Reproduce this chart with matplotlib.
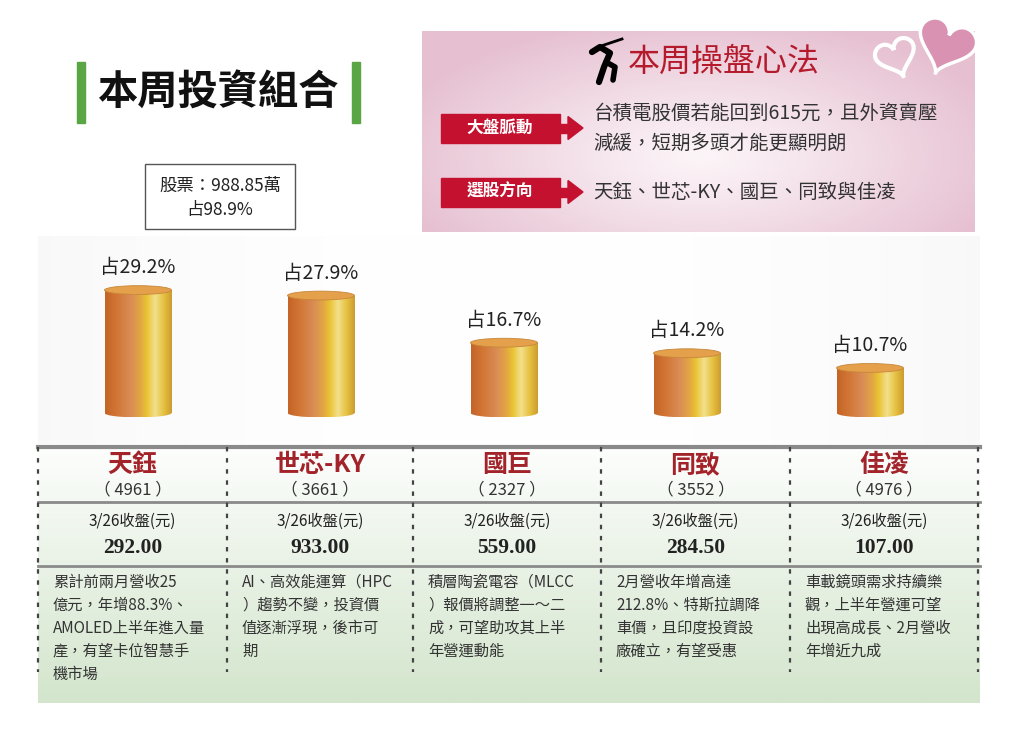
import numpy as np
import matplotlib.pyplot as plt
from matplotlib.patches import Rectangle, Ellipse, Polygon
from matplotlib.colors import LinearSegmentedColormap, to_rgb

plt.rcParams['font.family'] = ['Noto Sans CJK TC', 'DejaVu Sans']

W, H = 1024, 743

# ---- data ----
stocks = ['天鈺', '世芯-KY', '國巨', '同致', '佳凌']
codes = ['4961', '3661', '2327', '3552', '4976']
shares = [29.2, 27.9, 16.7, 14.2, 10.7]
prices = [292.00, 933.00, 559.00, 284.50, 107.00]
close_date = '3/26'
notes = [
    ['累計前兩月營收25', '億元，年增88.3%、', 'AMOLED上半年進入量', '產，有望卡位智慧手', '機市場'],
    ['AI、高效能運算（HPC', '）趨勢不變，投資價', '值逐漸浮現，後市可', '期'],
    ['積層陶瓷電容（MLCC', '）報價將調整一～二', '成，可望助攻其上半', '年營運動能'],
    ['2月營收年增高達', '212.8%、特斯拉調降', '車價，且印度投資設', '廠確立，有望受惠'],
    ['車載鏡頭需求持續樂', '觀，上半年營運可望', '出現高成長、2月營收', '年增近九成'],
]
stock_amount = '988.85萬'
stock_share = 98.9
market_view = ['台積電股價若能回到615元，且外資賣壓', '減緩，短期多頭才能更顯明朗']


def grad_img(c_start, c_end, n=200):
    a = np.linspace(0, 1, n)[:, None]
    c0, c1 = np.array(to_rgb(c_start)), np.array(to_rgb(c_end))
    return c0 + (c1 - c0) * a[:, :, None]


def heart(cx, cy, size, ang):
    t = np.linspace(0, 2 * np.pi, 200)
    x = 16 * np.sin(t) ** 3
    y = 13 * np.cos(t) - 5 * np.cos(2 * t) - 2 * np.cos(3 * t) - np.cos(4 * t)
    a = np.radians(ang)
    xr = x * np.cos(a) - y * np.sin(a)
    yr = x * np.sin(a) + y * np.cos(a)
    s = size / 32.0
    return np.column_stack([cx + xr * s, cy - yr * s])


fig = plt.figure(figsize=(W / 100, H / 100), dpi=100)
bg = fig.add_axes([0, 0, 1, 1])
bg.set_xlim(0, W)
bg.set_ylim(H, 0)
bg.set_autoscale_on(False)
bg.axis('off')

# pink panel with soft radial gradient
yy, xx = np.mgrid[0:100, 0:200]
r = np.sqrt(((xx - 100) / 115.0) ** 2 + ((yy - 62) / 70.0) ** 2).clip(0, 1)
c_in, c_out = np.array(to_rgb('#fcf5f8')), np.array(to_rgb('#e6c0d1'))
pink = c_in + (c_out - c_in) * (r[:, :, None] ** 1.1)
bg.imshow(pink, extent=(422, 975, 232, 31), aspect='auto', zorder=0)

# chart background
xs = np.linspace(-1, 1, 200)
cbg = np.array(to_rgb('#ffffff')) - (np.abs(xs)[None, :, None] ** 2) * 0.025
cbg = np.repeat(cbg, 10, axis=0)
bg.imshow(cbg, extent=(38, 980, 444, 236), aspect='auto', zorder=0)

# table background
tbl = grad_img('#fdfefd', '#d3e5cc')
tbl = np.repeat(tbl, 10, axis=1)
bg.imshow(tbl, extent=(38, 980, 703, 445), aspect='auto', zorder=0)

# title
bg.add_patch(Rectangle((77, 62), 8, 61, color='#5aa544', zorder=2))
bg.add_patch(Rectangle((352, 62), 8, 61, color='#5aa544', zorder=2))
bg.text(218, 93, '本周投資組合', fontsize=29, fontweight='heavy', ha='center', va='center', color='#111')

bg.add_patch(Rectangle((145, 164), 150, 65, fc='white', ec='#555', lw=1, zorder=2))
bg.text(220, 186, f'股票：{stock_amount}', fontsize=12.5, ha='center', va='center', color='#222', zorder=3)
bg.text(220, 210, f'占{stock_share}%', fontsize=12.5, ha='center', va='center', color='#222', zorder=3)

# right panel header
bg.text(628, 62, '本周操盤心法', fontsize=23, ha='left', va='center', color='#b51a2c', zorder=3)
bg.plot([592, 600, 610, 604, 599], [52, 47, 53, 67, 82], color='black', lw=4.5, solid_capstyle='round', zorder=3)
bg.plot([606, 615, 613], [62, 67, 80], color='black', lw=4, solid_capstyle='round', zorder=3)
bg.plot([598, 622], [47, 39], color='black', lw=2, zorder=3)

bg.add_patch(Polygon(heart(896, 56, 40, 20), closed=True, fc='none', ec='white', lw=3, zorder=3))
bg.add_patch(Polygon(heart(946, 44, 58, -20), closed=True, fc='#d992b2', ec='white', lw=2.5, zorder=3))

tags = ['大盤脈動', '選股方向']
tag_y = [128, 192]
for tag, ty in zip(tags, tag_y):
    bg.add_patch(Rectangle((441, ty - 14.5), 119, 29, color='#c4112f', zorder=2))
    bg.add_patch(Rectangle((558, ty - 4.5), 12, 9, color='#c4112f', zorder=2))
    bg.add_patch(Polygon([(568, ty - 11.5), (583, ty), (568, ty + 11.5)], color='#c4112f', zorder=2))
    bg.text(500, ty, tag, fontsize=12, fontweight='bold', color='white', ha='center', va='center', zorder=3)

bg.text(593, 113, market_view[0], fontsize=14, color='#333', ha='left', va='center', zorder=3)
bg.text(593, 143, market_view[1], fontsize=14, color='#333', ha='left', va='center', zorder=3)
pick = '、'.join(stocks[:-1]) + '與' + stocks[-1]
bg.text(593, 192, pick, fontsize=14, color='#333', ha='left', va='center', zorder=3)

# table grid
for y, lw in [(447, 3), (502, 2), (566, 2)]:
    bg.plot([38, 980], [y, y], color='#8a8a8a', lw=lw, zorder=2)
col_edges = [38, 227, 413, 601, 790, 978]
for x in col_edges:
    bg.plot([x, x], [447, 672], color='#444', lw=1.6, ls=(0, (2, 3)), zorder=2)

for i in range(len(stocks)):
    cx = (col_edges[i] + col_edges[i + 1]) / 2
    bg.text(cx, 465, stocks[i], fontsize=18, fontweight='bold', color='#a3232b', ha='center', va='center', zorder=3)
    bg.text(cx, 490, f'（ {codes[i]} ）', fontsize=12, color='#333', ha='center', va='center', zorder=3)
    bg.text(cx, 521, f'{close_date}收盤(元)', fontsize=11, color='#222', ha='center', va='center', zorder=3)
    bg.text(cx, 548, f'{prices[i]:.2f}', fontsize=15.5, fontweight='bold', family='Liberation Serif',
            color='#222', ha='center', va='center', zorder=3)
    for j, line in enumerate(notes[i]):
        bg.text(col_edges[i] + 15, 582 + 23 * j, line, fontsize=11, color='#333', ha='left', va='center', zorder=3)

# ---- cylinder bars ----
px_per = 4.21
base_pix, top_pix, bot_pix = 413, 240, 430
ax = fig.add_axes([46.5 / W, (H - bot_pix) / H, 915 / W, (bot_pix - top_pix) / H])
ax.patch.set_alpha(0)
ax.axis('off')

cyl = LinearSegmentedColormap.from_list('cyl', [
    (0.0, '#c46426'), (0.18, '#d27636'), (0.38, '#d98c55'), (0.52, '#e2a444'),
    (0.62, '#e9c233'), (0.75, '#f2e08a'), (0.88, '#e6c040'), (1.0, '#cc9c30')])
strip = cyl(np.linspace(0, 1, 256))[None, :, :3]

bw = 0.366
eh = 2.1
xpos = np.arange(len(shares))
bars = ax.bar(xpos, shares, width=bw, color='none', edgecolor='none', zorder=2)
for x, v, b in zip(xpos, shares, bars):
    im = ax.imshow(strip, extent=(x - bw / 2, x + bw / 2, 0, v), aspect='auto', zorder=2)
    im.set_clip_path(b)
    bottom = Ellipse((x, 0), bw, eh, fc='none', ec='none')
    ax.add_patch(bottom)
    im2 = ax.imshow(strip, extent=(x - bw / 2, x + bw / 2, -eh / 2, 0), aspect='auto', zorder=2)
    im2.set_clip_path(bottom)
    ax.add_patch(Ellipse((x, v), bw, eh, fc='#e4a04a', ec='#c8873a', lw=0.6, zorder=3))
    ax.text(x, v + 5.3, f'占{v}%', fontsize=14, color='#222', ha='center', va='center')

ax.set_xlim(-0.5, len(shares) - 0.5)
ax.set_ylim(-(bot_pix - base_pix) / px_per, (base_pix - top_pix) / px_per)

fig.savefig('out.png', dpi=100)
